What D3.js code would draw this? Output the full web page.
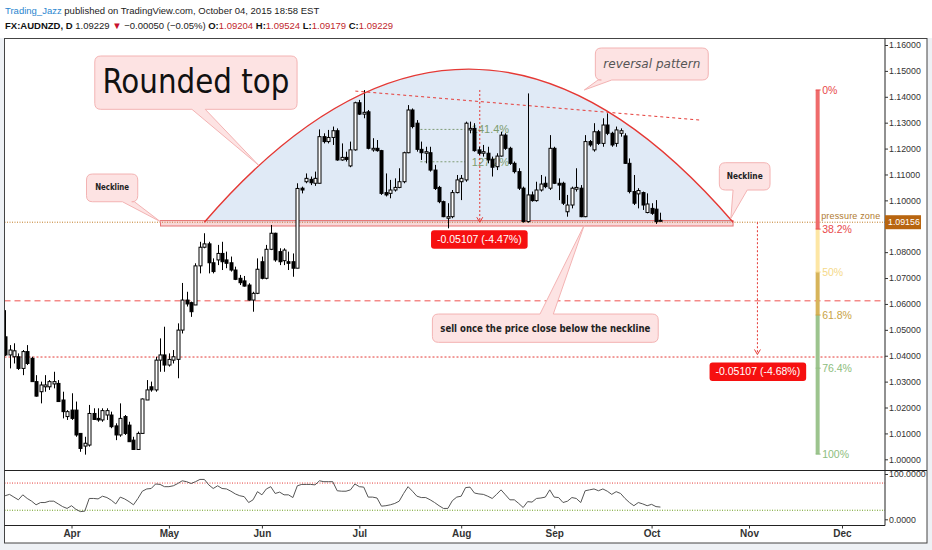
<!DOCTYPE html>
<html><head><meta charset="utf-8">
<script src="https://cdn.jsdelivr.net/npm/d3@7/dist/d3.min.js"></script>
<style>
html,body{margin:0;padding:0;background:#eef1f5;}
svg{display:block;}
</style></head><body>
<svg id="chart" width="932" height="550"></svg>
<script>
// ---------------- DATA ----------------
const firstDate = "2015-03-11";
const open  = [1.0473,1.0403,1.0396,1.0396,1.0351,1.0416,1.0390,1.0300,1.0261,1.0280,1.0280,1.0291,1.0293,1.0229,1.0165,1.0190,1.0190,1.0100,1.0051,1.0055,1.0177,1.0158,1.0152,1.0171,1.0171,1.0129,1.0094,1.0165,1.0132,1.0074,1.0038,1.0100,1.0229,1.0280,1.0268,1.0383,1.0403,1.0364,1.0383,1.0386,1.0499,1.0615,1.0605,1.0596,1.0747,1.0819,1.0832,1.0759,1.0770,1.0795,1.0770,1.0759,1.0731,1.0699,1.0689,1.0673,1.0615,1.0641,1.0763,1.0699,1.0811,1.0873,1.0802,1.0767,1.0763,1.0763,1.0738,1.1047,1.1072,1.1081,1.1066,1.1066,1.1246,1.1227,1.1243,1.1269,1.1156,1.1166,1.1133,1.1195,1.1377,1.1333,1.1342,1.1195,1.1201,1.1192,1.1030,1.1027,1.1040,1.1050,1.1072,1.1184,1.1349,1.1298,1.1197,1.1182,1.1184,1.1117,1.1050,1.0995,1.0931,1.0937,1.1030,1.1072,1.1079,1.1272,1.1278,1.1195,1.1182,1.1182,1.1159,1.1130,1.1171,1.1252,1.1201,1.1143,1.1111,1.1047,1.0918,1.1021,1.0999,1.1040,1.1066,1.1047,1.1201,1.1066,1.1066,1.0956,1.0982,1.1043,1.1047,1.0937,1.1227,1.1195,1.1265,1.1220,1.1291,1.1259,1.1220,1.1259,1.1249,1.1143,1.1034,1.1025,1.1030,1.0953,1.0969,1.0966,1.09204];
const high  = [1.0576,1.0441,1.0448,1.0409,1.0422,1.0441,1.0396,1.0325,1.0300,1.0325,1.0306,1.0338,1.0306,1.0261,1.0190,1.0255,1.0223,1.0100,1.0087,1.0210,1.0197,1.0197,1.0197,1.0197,1.0184,1.0139,1.0216,1.0171,1.0145,1.0087,1.0107,1.0235,1.0306,1.0300,1.0396,1.0467,1.0512,1.0409,1.0422,1.0525,1.0681,1.0647,1.0609,1.0757,1.0840,1.0873,1.0840,1.0776,1.0828,1.0840,1.0802,1.0783,1.0744,1.0712,1.0708,1.0680,1.0647,1.0776,1.0783,1.0828,1.0905,1.0875,1.0815,1.0815,1.0802,1.0795,1.1066,1.1053,1.1104,1.1092,1.1111,1.1274,1.1259,1.1272,1.1285,1.1278,1.1220,1.1188,1.1227,1.1381,1.1388,1.1426,1.1349,1.1240,1.1233,1.1195,1.1104,1.1079,1.1085,1.1124,1.1188,1.1368,1.1355,1.1310,1.1227,1.1207,1.1207,1.1137,1.1056,1.0999,1.0989,1.1040,1.1098,1.1098,1.1304,1.1304,1.1298,1.1207,1.1214,1.1207,1.1169,1.1182,1.1265,1.1259,1.1207,1.1150,1.1124,1.1053,1.1413,1.1034,1.1072,1.1098,1.1092,1.1252,1.1207,1.1085,1.1072,1.1021,1.1053,1.1124,1.1059,1.1252,1.1233,1.1298,1.1272,1.1317,1.1336,1.1265,1.1285,1.1278,1.1259,1.1162,1.1098,1.1047,1.1034,1.1027,1.0989,1.1001,1.09524];
const low   = [1.0399,1.0351,1.0370,1.0345,1.0325,1.0364,1.0300,1.0242,1.0216,1.0261,1.0268,1.0274,1.0223,1.0158,1.0152,1.0152,1.0087,1.0029,1.0018,1.0049,1.0152,1.0145,1.0145,1.0152,1.0120,1.0074,1.0087,1.0094,1.0068,1.0036,1.0036,1.0100,1.0229,1.0261,1.0261,1.0338,1.0338,1.0358,1.0370,1.0313,1.0486,1.0590,1.0550,1.0596,1.0718,1.0815,1.0718,1.0718,1.0750,1.0731,1.0738,1.0725,1.0692,1.0673,1.0667,1.0613,1.0570,1.0638,1.0695,1.0695,1.0808,1.0763,1.0750,1.0750,1.0731,1.0705,1.0738,1.1027,1.1066,1.1059,1.1056,1.1066,1.1220,1.1220,1.1214,1.1153,1.1153,1.1150,1.1128,1.1192,1.1330,1.1317,1.1197,1.1188,1.1188,1.1021,1.1015,1.1008,1.1034,1.1047,1.1066,1.1182,1.1278,1.1188,1.1156,1.1143,1.1111,1.1040,1.0989,1.0935,1.0892,1.0931,1.1027,1.1001,1.1072,1.1259,1.1188,1.1175,1.1169,1.1143,1.1092,1.1117,1.1169,1.1195,1.1137,1.1104,1.1040,1.0914,1.0914,1.0995,1.0995,1.1034,1.1047,1.1040,1.1063,1.1001,1.0982,1.0937,1.0969,1.1034,1.0935,1.0935,1.1207,1.1188,1.1214,1.1207,1.1252,1.1207,1.1207,1.1246,1.1141,1.1027,1.0982,1.0969,1.0963,1.0950,1.0944,1.0909,1.09179];
const close = [1.0403,1.0422,1.0419,1.0351,1.0416,1.0370,1.0300,1.0244,1.0287,1.0287,1.0300,1.0300,1.0223,1.0184,1.0184,1.0158,1.0094,1.0042,1.0062,1.0177,1.0154,1.0152,1.0188,1.0188,1.0126,1.0094,1.0158,1.0100,1.0068,1.0038,1.0100,1.0233,1.0268,1.0268,1.0383,1.0403,1.0364,1.0386,1.0396,1.0499,1.0615,1.0600,1.0570,1.0747,1.0819,1.0832,1.0759,1.0725,1.0795,1.0763,1.0757,1.0731,1.0695,1.0682,1.0669,1.0615,1.0641,1.0734,1.0699,1.0811,1.0873,1.0770,1.0763,1.0808,1.0757,1.0738,1.1046,1.1040,1.1085,1.1068,1.1085,1.1246,1.1227,1.1243,1.1269,1.1156,1.1166,1.1158,1.1195,1.1377,1.1333,1.1340,1.1201,1.1201,1.1192,1.1027,1.1021,1.1040,1.1050,1.1072,1.1184,1.1349,1.1285,1.1197,1.1184,1.1188,1.1117,1.1046,1.0995,1.0937,1.0937,1.1030,1.1079,1.1085,1.1298,1.1278,1.1192,1.1182,1.1188,1.1156,1.1128,1.1171,1.1252,1.1201,1.1143,1.1111,1.1047,1.0918,1.1021,1.0999,1.1040,1.1063,1.1053,1.1201,1.1066,1.1059,1.0989,1.0982,1.1047,1.1050,1.0937,1.1227,1.1214,1.1265,1.1220,1.1291,1.1259,1.1214,1.1272,1.1269,1.1143,1.1034,1.0989,1.1038,1.0982,1.0986,1.0950,1.0918,1.09229];
const oscillator = [52,55,49,43,54,46,40,32,37,37,40,40,34,28,24,30,22,17,18,46,46,45,51,48,42,34,49,45,39,32,46,62,67,68,78,77,72,72,74,79,85,83,79,83,88,88,76,68,74,68,67,62,56,52,50,37,43,61,54,67,72,57,60,54,54,48,74,77,77,77,76,85,83,83,83,63,62,62,65,78,72,71,49,49,47,29,30,32,35,40,57,72,62,51,48,48,43,37,30,24,24,41,49,51,70,71,58,56,55,51,46,55,65,54,43,43,35,26,39,38,46,47,49,65,49,48,37,40,48,46,37,63,65,67,63,67,62,55,61,57,46,37,30,37,34,30,33,28,27];
const priceTicks = [1.00,1.01,1.02,1.03,1.04,1.05,1.06,1.07,1.08,1.10,1.11,1.12,1.13,1.14,1.15,1.16];
const oscTicks = [0,100];
const oscLevels = [80,20];
const necklinePrice = 1.09156;
const peakPrice = 1.14263;
const swingLowPrice = 1.0020;
const fibLevels = [0,0.382,0.5,0.618,0.764,1];
const fibLabels = ["0%","38.2%","50%","61.8%","76.4%","100%"];
const extLevels = [1.1274,1.1149];
const extLabels = ["141.4%","127.2%"];
const supportLevels = [1.0612,1.0395];
const headerLine1 = [["Trading_Jazz","#2a86cf","normal"],[" published on TradingView.com, October 04, 2015 18:58 EST","#222","normal"]];
const headerLine2 = [["FX:AUDNZD, D ","#111","bold"],["1.09229 ","#222","normal"],["\u25BC","#c8102e","normal"],[" \u22120.00050 (\u22120.05%) ","#222","normal"],
  ["O:","#111","bold"],["1.09204 ","#c1272d","normal"],["H:","#111","bold"],["1.09524 ","#c1272d","normal"],
  ["L:","#111","bold"],["1.09179 ","#c1272d","normal"],["C:","#111","bold"],["1.09229","#c1272d","normal"]];

// ---------------- LAYOUT ----------------
const svg = d3.select("#chart");
const F = {left:4.5, top:38.5, right:927, bottom:543, axisX:885, mainBottom:470.5, oscBottom:525.5};

const allDays = d3.timeDay.range(new Date(2015,2,9), new Date(2016,0,1)).filter(d=>d.getDay()%6!==0);
const fmt = d3.timeFormat("%Y-%m-%d");
const idxOf = s => allDays.findIndex(d=>fmt(d)===s);
const i0 = idxOf(firstDate);
const candles = open.map((o,k)=>({i:i0+k, o, h:high[k], l:low[k], c:close[k]}));
const osc = oscillator.map((v,k)=>({i:i0+k, v}));

const x = d3.scaleLinear().domain([idxOf("2015-04-01"), idxOf("2015-12-01")]).range([71.5, 842]);
const y = d3.scaleLinear().domain([1.00,1.16]).range([459.3,45]);
const yo = d3.scaleLinear().domain([0,100]).range([519.3,474]);

// backgrounds
svg.append("rect").attr("x",0).attr("y",0).attr("width",932).attr("height",38).attr("fill","#fff");
svg.append("rect").attr("x",F.left).attr("y",F.top).attr("width",F.right-F.left).attr("height",F.bottom-F.top).attr("fill","#fff");

const defs = svg.append("defs");
defs.append("clipPath").attr("id","clipMain").append("rect")
  .attr("x",F.left).attr("y",F.top).attr("width",F.axisX-F.left).attr("height",F.mainBottom-F.top);
defs.append("clipPath").attr("id","clipOsc").append("rect")
  .attr("x",F.left).attr("y",F.mainBottom).attr("width",F.axisX-F.left).attr("height",F.oscBottom-F.mainBottom);

const main = svg.append("g").attr("clip-path","url(#clipMain)");

// ---- rounded top arc (parabola via quadratic bezier) ----
const arcL = 47, arcR = 166.4, arcApex = 1.1507;
const yBase = y(necklinePrice), yApex = y(arcApex);
const arcPath = d3.path();
arcPath.moveTo(x(arcL), yBase);
arcPath.quadraticCurveTo((x(arcL)+x(arcR))/2, 2*yApex - yBase, x(arcR), yBase);
main.append("path").attr("d", arcPath.toString()+"Z").attr("fill","#e0eaf6").attr("stroke","none");

// neckline dotted line
main.append("line").attr("x1",F.left).attr("x2",F.axisX).attr("y1",yBase).attr("y2",yBase)
  .attr("stroke","#c07a22").attr("stroke-width",1).attr("stroke-dasharray","1,1.5");

// neckline band
main.append("rect").attr("x",x(37.1)).attr("width",x(166.4)-x(37.1))
  .attr("y",y(1.0922)).attr("height",y(1.0901)-y(1.0922))
  .attr("fill","rgba(229,115,115,0.28)").attr("stroke","#e57373").attr("stroke-width",1);

// support lines
main.append("line").attr("x1",F.left).attr("x2",F.axisX).attr("y1",y(supportLevels[0])).attr("y2",y(supportLevels[0]))
  .attr("stroke","#ef5350").attr("stroke-dasharray","6,4").attr("stroke-width",1);
main.append("line").attr("x1",F.left).attr("x2",F.axisX).attr("y1",y(supportLevels[1])).attr("y2",y(supportLevels[1]))
  .attr("stroke","#e53935").attr("stroke-dasharray","2,2").attr("stroke-width",1);

// trend line dashed
main.append("line").attr("x1",x(81.1)).attr("y1",y(1.1422)).attr("x2",x(159)).attr("y2",y(1.1310))
  .attr("stroke","#e53935").attr("stroke-dasharray","3,3").attr("stroke-width",1);

// fib extension short lines + labels
extLevels.forEach((p,k)=>{
  main.append("line").attr("x1",x(95.8)).attr("x2",x(105.9)).attr("y1",y(p)).attr("y2",y(p))
    .attr("stroke","#7f9c75").attr("stroke-dasharray","2,2");
  main.append("text").attr("x",x(107.4)).attr("y",y(p)).attr("dy","0.35em")
    .attr("font-family","Liberation Sans, Arial").attr("font-size",11).attr("fill","#7d9c6f").text(extLabels[k]);
});

// vertical measure arrows
function vArrow(i, p1, p2){
  const cx = x(i);
  main.append("line").attr("x1",cx).attr("x2",cx).attr("y1",y(p1)).attr("y2",y(p2))
    .attr("stroke","#e53935").attr("stroke-dasharray","2,2");
  const yb = y(p2);
  main.append("path").attr("d",`M${cx-3},${yb-5}L${cx},${yb}L${cx+3},${yb-5}`)
    .attr("fill","none").attr("stroke","#e53935");
}
const move = peakPrice - necklinePrice;
vArrow(109.2, peakPrice, necklinePrice);
vArrow(171.9, necklinePrice, necklinePrice - move);

// ---- candles ----
const cg = main.append("g");
cg.selectAll("line.wick").data(candles).join("line").attr("class","wick")
  .attr("x1",d=>Math.round(x(d.i))+0.5).attr("x2",d=>Math.round(x(d.i))+0.5)
  .attr("y1",d=>y(d.h)).attr("y2",d=>y(d.l)).attr("stroke","#000").attr("stroke-width",1);
cg.selectAll("rect.body").data(candles).join("rect").attr("class","body")
  .attr("x",d=>Math.round(x(d.i))-1)
  .attr("y",d=>y(Math.max(d.o,d.c)))
  .attr("width",3)
  .attr("height",d=>Math.max(y(Math.min(d.o,d.c))-y(Math.max(d.o,d.c)),1))
  .attr("fill",d=>d.c>=d.o?"#fff":"#000").attr("stroke","#000").attr("stroke-width",1);

// arc stroke on top
main.append("path").attr("d", arcPath.toString()).attr("fill","none").attr("stroke","#e53935").attr("stroke-width",1.4);

// ---- callouts ----
function callout(box, baseA, baseB, edge, tip, opts){
  const x1=x(box[0]), x2=x(box[2]), y1=y(box[1]), y2=y(box[3]), r=6;
  const ba=x(baseA), bb=x(baseB), tx=x(tip[0]), ty=y(tip[1]);
  let d;
  if(edge==="bottom"){
    d=`M${x1+r},${y1}L${x2-r},${y1}Q${x2},${y1} ${x2},${y1+r}L${x2},${y2-r}Q${x2},${y2} ${x2-r},${y2}`+
      `L${bb},${y2}L${tx},${ty}L${ba},${y2}L${x1+r},${y2}Q${x1},${y2} ${x1},${y2-r}L${x1},${y1+r}Q${x1},${y1} ${x1+r},${y1}Z`;
  } else {
    d=`M${x1+r},${y1}L${ba},${y1}L${tx},${ty}L${bb},${y1}L${x2-r},${y1}Q${x2},${y1} ${x2},${y1+r}L${x2},${y2-r}Q${x2},${y2} ${x2-r},${y2}`+
      `L${x1+r},${y2}Q${x1},${y2} ${x1},${y2-r}L${x1},${y1+r}Q${x1},${y1} ${x1+r},${y1}Z`;
  }
  main.append("path").attr("d",d).attr("fill","#fde3e3").attr("stroke","#f3b3b3").attr("stroke-width",1);
  const t = main.append("text").attr("x",(x1+x2)/2).attr("y",opts.base).attr("text-anchor","middle")
    .attr("font-family",opts.family).attr("font-size",opts.size).attr("fill",opts.color||"#111")
    .attr("font-weight",opts.weight||"normal").attr("font-style",opts.style||"normal").text(opts.text);
  if(opts.len) t.attr("textLength",opts.len).attr("lengthAdjust","spacingAndGlyphs");
}
callout([22.26,1.15575,67.94,1.13516],44.2,47.2,"bottom",[59.2,1.11365],
  {text:"Rounded top",base:93,family:"DejaVu Sans Condensed, DejaVu Sans",size:33,len:187,color:"#111"});
callout([20.39,1.11017,31.96,1.09947],28.5,31.2,"bottom",[37.1,1.09175],
  {text:"Neckline",base:190,family:"DejaVu Sans Condensed, DejaVu Sans",size:9.5,weight:"bold",len:34,color:"#222"});
callout([163.3,1.11454,174.75,1.10399],166.4,169.6,"bottom",[165.9,1.09306],
  {text:"Neckline",base:179,family:"DejaVu Sans Condensed, DejaVu Sans",size:9.5,weight:"bold",len:36,color:"#222"});
callout([135.3,1.15884,160.8,1.14648],135.9,139,"bottom",[132.8,1.14262],
  {text:"reversal pattern",base:68,family:"DejaVu Sans Condensed, DejaVu Sans",size:13,style:"italic",len:97,color:"#555"});
callout([98.5,1.0561,149.5,1.04517],122.8,125.8,"top",[132.8,1.09047],
  {text:"sell once the price close below the neckline",base:332,family:"DejaVu Sans Condensed, DejaVu Sans",size:11,weight:"bold",len:210,color:"#222"});

// ---- red measure labels ----
function redLabel(i, yTop, txt){
  const cx = x(i), w=96.6, h=18.5;
  main.append("rect").attr("x",cx-w/2).attr("y",yTop).attr("width",w).attr("height",h).attr("rx",3).attr("fill","#f61010");
  main.append("text").attr("x",cx).attr("y",yTop+h/2).attr("dy","0.35em").attr("text-anchor","middle")
    .attr("font-family","Liberation Sans, Arial").attr("font-size",10.5).attr("fill","#fff").text(txt);
}
const f5 = d3.format(".5f"), pct = d3.format(".2f");
redLabel(109.1, y(necklinePrice)+8, `-${f5(move)} (-${pct(move/peakPrice*100)}%)`);
redLabel(172, y(necklinePrice-move)+8, `-${f5(move)} (-${pct(move/necklinePrice*100)}%)`);

// ---- fib retracement bar ----
const fibX = x(185.5);
const fibColors = ["#ef6b6b","#fde6a4","#d7b45a","#9cc48e","#9cc48e"];
const fibText = ["#e84a4a","#e84a4a","#f5d98a","#c9a345","#8dbd7d","#8dbd7d"];
const fibPrice = l => peakPrice - l*(peakPrice-swingLowPrice);
for(let k=0;k<fibLevels.length-1;k++){
  main.append("rect").attr("x",fibX-2).attr("width",4)
    .attr("y",y(fibPrice(fibLevels[k]))).attr("height",y(fibPrice(fibLevels[k+1]))-y(fibPrice(fibLevels[k])))
    .attr("fill",fibColors[k]);
}
fibLevels.forEach((l,k)=>{
  main.append("line").attr("x1",fibX-2).attr("x2",fibX+3).attr("y1",y(fibPrice(l))).attr("y2",y(fibPrice(l)))
    .attr("stroke",fibText[k]).attr("stroke-width",1);
  main.append("text").attr("x",fibX+4.5).attr("y",y(fibPrice(l))).attr("dy","0.38em")
    .attr("font-family","Liberation Sans, Arial").attr("font-size",10.5).attr("fill",fibText[k]).text(fibLabels[k]);
});
main.append("text").attr("x",fibX+3.5).attr("y",y(necklinePrice)-3.5)
  .attr("font-family","Liberation Sans, Arial").attr("font-size",9)
  .attr("textLength",59).attr("lengthAdjust","spacing")
  .attr("fill","#b07a30").text("pressure zone");

// ---- oscillator ----
const og = svg.append("g").attr("clip-path","url(#clipOsc)");
og.append("line").attr("x1",F.left).attr("x2",F.axisX).attr("y1",yo(oscLevels[0])).attr("y2",yo(oscLevels[0]))
  .attr("stroke","#e53935").attr("stroke-dasharray","1,1.5");
og.append("line").attr("x1",F.left).attr("x2",F.axisX).attr("y1",yo(oscLevels[1])).attr("y2",yo(oscLevels[1]))
  .attr("stroke","#6a9a1a").attr("stroke-dasharray","1,1.5");
og.append("path").datum(osc).attr("d",d3.line().x(d=>x(d.i)).y(d=>yo(d.v)))
  .attr("fill","none").attr("stroke","#555").attr("stroke-width",1);

// ---- frames ----
const frame = svg.append("g").attr("stroke","#222").attr("stroke-width",1).attr("fill","none");
frame.append("rect").attr("x",F.left).attr("y",F.top).attr("width",F.right-F.left).attr("height",F.bottom-F.top).attr("stroke","#444");
frame.append("line").attr("x1",F.axisX).attr("x2",F.axisX).attr("y1",F.top).attr("y2",F.oscBottom);
frame.append("line").attr("x1",F.left).attr("x2",F.right).attr("y1",F.mainBottom).attr("y2",F.mainBottom);
frame.append("line").attr("x1",F.left).attr("x2",F.axisX).attr("y1",F.oscBottom).attr("y2",F.oscBottom);

// ---- axes ----
const pAxis = svg.append("g").attr("transform",`translate(${F.axisX},0)`)
  .call(d3.axisRight(y).tickValues(priceTicks).tickFormat(d3.format(".5f")).tickSize(3).tickPadding(1));
const oAxis = svg.append("g").attr("transform",`translate(${F.axisX},0)`)
  .call(d3.axisRight(yo).tickValues(oscTicks).tickFormat(d3.format(".4f")).tickSize(3).tickPadding(1));
[pAxis,oAxis].forEach(a=>{
  a.select(".domain").remove();
  a.selectAll("text").attr("font-family","Liberation Sans, Arial").attr("font-size",8.8).attr("fill","#333");
  a.selectAll("line").attr("stroke","#333");
});
// neckline price label on axis
const lblG = svg.append("g");
lblG.append("rect").attr("x",F.axisX).attr("y",y(necklinePrice)-7).attr("width",36).attr("height",14).attr("fill","#b8650f");
lblG.append("text").attr("x",F.axisX+3).attr("y",y(necklinePrice)).attr("dy","0.35em")
  .attr("font-family","Liberation Sans, Arial").attr("font-size",8.8).attr("fill","#fff").text(f5(necklinePrice));

const monthStarts = allDays.map((d,k)=>({d,k})).filter((o,k,arr)=>k>0 && o.d.getMonth()!==arr[k-1].d.getMonth())
  .map(o=>o.k).filter(k=>x(k)>F.left+15 && x(k)<F.axisX-10);
const tAxis = svg.append("g").attr("transform",`translate(0,${F.oscBottom})`)
  .call(d3.axisBottom(x).tickValues(monthStarts).tickFormat(k=>d3.timeFormat("%b")(allDays[k])).tickSize(3).tickPadding(1));
tAxis.select(".domain").remove();
tAxis.selectAll("text").attr("font-family","Liberation Sans, Arial").attr("font-size",10).attr("font-weight","bold").attr("fill","#333");
tAxis.selectAll("line").attr("stroke","#333");

// ---- header (natural-width flowing tspans) ----
function headerLine(parts, yp, size){
  const t = svg.append("text").attr("x",5).attr("y",yp).attr("font-family","Liberation Sans, Arial")
    .attr("font-size",size).style("white-space","pre");
  parts.forEach(p=>t.append("tspan").attr("fill",p[1]).attr("font-weight",p[2]).text(p[0]));
}
headerLine(headerLine1, 14, 9.5);
headerLine(headerLine2, 28.5, 9.5);
</script>
</body></html>
